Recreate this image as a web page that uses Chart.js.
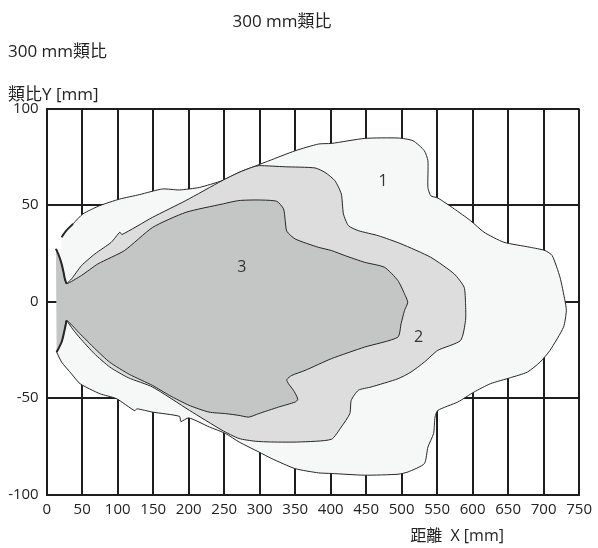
<!DOCTYPE html>
<html><head><meta charset="utf-8">
<script src="https://cdn.jsdelivr.net/npm/chart.js@4.4.1/dist/chart.umd.min.js"></script>
<style>html,body{margin:0;padding:0;background:#fff}canvas{display:block}</style>
</head><body>
<canvas id="c" width="598" height="548" style="width:598px;height:548px"></canvas>
<script>
// ---- data ----
const chartTitle = '300 mm類比';
const subTitle = '300 mm類比';
const yTitle = '類比Y [mm]';
const xTitle = '距離  X [mm]';
const xTicks = [0,50,100,150,200,250,300,350,400,450,500,550,600,650,700,750];
const yTicks = [-100,-50,0,50,100];

// outer contour (1)
const region1 = [[21,33.3],[27,36.5],[37,40.2],[51,45.4],[75,49.7],[103,53.1],[131,55.4],[163,58.3],[187,57.8],[215,59.1],[247,62.6],[271,66.9],[289,69.5],[313,72.9],[350,78.1],[383,81.6],[401,81.9],[448,84.5],[495,84.7],[516,83.3],[532,78.1],[537,72.9],[537,59.1],[541,54.8],[551,53.6],[574,48.0],[597,41.9],[616,35.9],[644,30.7],[681,28.1],[702,26.4],[712,23.8],[723,12.6],[730,0.5],[732,-4.7],[728,-13.3],[709,-25.3],[695,-31.4],[677,-36.6],[653,-39.5],[625,-42.6],[602,-46.9],[579,-52.1],[551,-56.4],[547,-59.9],[545,-68.4],[537,-75.4],[532,-84.0],[509,-88.3],[495,-89.5],[448,-90.0],[401,-89.1],[383,-88.8],[350,-86.6],[317,-81.4],[299,-78.0],[271,-72.8],[252,-68.4],[229,-65.0],[200,-60.3],[189,-62.2],[187,-59.5],[149,-57.3],[127,-55.6],[124,-56.6],[98,-50.3],[75,-47.8],[47,-42.6],[35,-37.5],[21,-31.4],[14,-26.2]];
// middle contour (2)
const region2 = [[28,9.2],[35,11.7],[49,18.6],[68,24.7],[91,30.7],[103,35.9],[106,34.7],[149,43.6],[196,52.3],[247,62.6],[271,66.9],[289,69.5],[299,70.4],[336,69.8],[378,69.2],[392,66.9],[406,62.6],[415,55.7],[418,45.4],[425,39.3],[439,36.7],[467,34.1],[499,29.9],[541,22.9],[574,14.3],[588,7.4],[590,-1.2],[590,-9.8],[583,-20.2],[551,-25.3],[532,-31.4],[513,-36.6],[495,-40.0],[457,-44.3],[439,-46.0],[429,-51.2],[427,-58.1],[415,-65.0],[401,-71.4],[355,-72.8],[317,-72.8],[294,-72.4],[271,-71.0],[247,-66.7],[201,-56.4],[149,-44.3],[115,-39.5],[89,-34.0],[67,-27.0],[47,-19.0],[37,-14.5],[28,-9.8]];
// inner contour (3)
const region3 = [[14,-26.2],[21,-21.0],[25.6,-14.1],[28,-9.8],[46.6,-16.6],[67.6,-24.3],[88.6,-31.4],[116.6,-37.8],[149.2,-43.5],[172.6,-48.6],[200.6,-53.8],[228.6,-57.3],[252,-58.1],[270.6,-59.0],[284.6,-59.9],[298.6,-58.1],[326.6,-54.7],[350,-52.1],[353.6,-50.9],[352.2,-49.1],[347.6,-46.0],[340.6,-42.6],[338.2,-40.5],[345.2,-38.3],[364,-35.7],[401.2,-29.6],[448,-23.6],[494.6,-18.5],[499.2,-11.5],[504,-4.7],[508.6,-0.4],[504,4.0],[494.6,10.9],[476,17.7],[448,20.3],[420,23.8],[401.2,26.4],[382.6,28.1],[350,32.4],[338.2,36.4],[336,41.9],[333.6,48.0],[324.2,51.9],[298.6,52.6],[270.6,52.3],[247.2,50.5],[196,46.2],[149.2,38.4],[109.6,26.4],[72.2,19.5],[49,13.5],[28,9.2],[25.6,11.7],[23.7,15.2],[21,19.5],[17.2,23.8],[13,27.3]];

const regionLabels = ['1','2','3'];
const regionLabelAt = [[474,62],[524,-18.5],[275,17.7]];

// ---- chart ----
const toXY = a => a.map(p => ({x:p[0], y:p[1]}));
const FONT = "'Open Sans','Noto Sans CJK TC',sans-serif";
Chart.defaults.font.family = FONT;
Chart.defaults.color = '#222';

const lineCol = '#262626';
function region(data, fillCol, order){
  return {data: toXY(data), showLine:true, pointRadius:0, borderColor:lineCol, borderWidth:1,
          backgroundColor: fillCol, fill:'shape', tension:0.2, order};
}
function curl(data, order){
  return {data: toXY(data), showLine:true, pointRadius:0, borderColor:lineCol, borderWidth:2,
          fill:false, tension:0.3, order};
}

const textPlugin = {
  id:'texts',
  afterDatasetsDraw(chart){
    const {ctx, scales:{x, y}} = chart;
    ctx.save();
    ctx.fillStyle = '#333';
    ctx.font = '16px ' + FONT;
    ctx.textAlign = 'center'; ctx.textBaseline = 'middle';
    regionLabels.forEach((t,i)=>{
      ctx.fillText(t, x.getPixelForValue(regionLabelAt[i][0]), y.getPixelForValue(regionLabelAt[i][1]));
    });
    ctx.restore();
  },
  afterDraw(chart){
    const {ctx, chartArea} = chart;
    ctx.save();
    ctx.fillStyle = '#222';
    ctx.textAlign = 'center'; ctx.textBaseline = 'middle';
    ctx.font = '17px ' + FONT;
    ctx.fillText(chartTitle, 282, 22);
    ctx.font = '16px ' + FONT;
    ctx.fillText(xTitle, chart.scales.x.getPixelForValue(578), chartArea.bottom + 42);
    ctx.restore();
  }
};

new Chart(document.getElementById('c'), {
  type:'scatter',
  data:{datasets:[
    region(region1, '#f6f8f7', 3),
    region(region2, '#dddddd', 2),
    region(region3, '#c4c5c5', 1),
    curl(region3.slice(0,4), 0),
    curl(region3.slice(-6), 0),
    curl(region1.slice(0,3), 0)
  ]},
  options:{
    responsive:false, animation:false, devicePixelRatio:1,
    layout:{padding:{left:8, right:15.5, top:0, bottom:0}},
    plugins:{
      legend:{display:false}, tooltip:{enabled:false},
      title:{display:false},
      subtitle:{display:true, text:[subTitle,'',yTitle], align:'start', color:'#222',
        font:{size:17, lineHeight:21.5/17}, padding:{top:41.25, bottom:2.75}}
    },
    scales:{
      x:{type:'linear', min:0, max:750, z:1,
        afterBuildTicks:s=>{s.ticks = xTicks.map(v=>({value:v}));},
        afterFit:s=>{s.height = 53.5;},
        grid:{color:'#1e1e1e', lineWidth:2, drawTicks:false},
        border:{display:true, color:'#1e1e1e', width:2},
        ticks:{font:{size:15}, color:'#222', padding:6, maxRotation:0, autoSkip:false}},
      y:{type:'linear', min:-100, max:100, z:1,
        afterBuildTicks:s=>{s.ticks = yTicks.map(v=>({value:v}));},
        afterFit:s=>{s.width = 38.7;},
        grid:{color:'#1e1e1e', lineWidth:2, drawTicks:false},
        border:{display:true, color:'#1e1e1e', width:2},
        ticks:{font:{size:15}, color:'#222', padding:8}}
    }
  },
  plugins:[textPlugin]
});
</script>
</body></html>
